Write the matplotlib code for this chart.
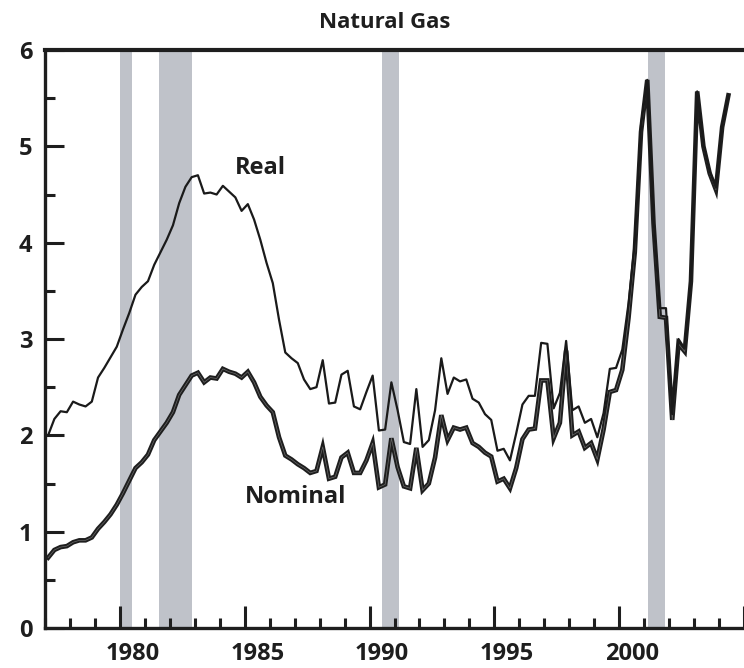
import numpy as np
import matplotlib
matplotlib.use("Agg")
import matplotlib.pyplot as plt
from matplotlib.ticker import MultipleLocator, NullFormatter

# ---------------- data (quarterly, 1977Q1 - 2004Q2) ----------------
start_year = 1977
real = [
    2.00, 2.17, 2.25, 2.24,   # 1977
    2.35, 2.32, 2.30, 2.35,   # 1978
    2.60, 2.70, 2.81, 2.92,   # 1979
    3.10, 3.27, 3.46, 3.54,   # 1980
    3.60, 3.77, 3.90, 4.03,   # 1981
    4.18, 4.41, 4.58, 4.68,   # 1982
    4.70, 4.51, 4.52, 4.50,   # 1983
    4.59, 4.53, 4.47, 4.33,   # 1984
    4.40, 4.24, 4.03, 3.79,   # 1985
    3.58, 3.20, 2.86, 2.80,   # 1986
    2.75, 2.58, 2.48, 2.50,   # 1987
    2.78, 2.33, 2.34, 2.63,   # 1988
    2.67, 2.30, 2.27, 2.45,   # 1989
    2.62, 2.05, 2.06, 2.55,   # 1990
    2.26, 1.93, 1.91, 2.48,   # 1991
    1.88, 1.95, 2.26, 2.80,   # 1992
    2.43, 2.60, 2.56, 2.58,   # 1993
    2.38, 2.34, 2.22, 2.16,   # 1994
    1.84, 1.86, 1.74, 2.02,   # 1995
    2.32, 2.41, 2.41, 2.96,   # 1996
    2.95, 2.28, 2.44, 2.98,   # 1997
    2.26, 2.30, 2.13, 2.17,   # 1998
    1.98, 2.23, 2.69, 2.70,   # 1999
    2.89, 3.37, 4.00, 5.22,   # 2000
    5.69, 4.25, 3.32, 3.32,   # 2001
    2.22, 3.00, 2.90, 3.62,   # 2002
    5.57, 5.02, 4.74, 4.57,   # 2003
    5.22, 5.53,               # 2004
]
nominal = [
    0.73, 0.81, 0.84, 0.85,   # 1977
    0.89, 0.91, 0.91, 0.94,   # 1978
    1.03, 1.10, 1.18, 1.28,   # 1979
    1.40, 1.53, 1.66, 1.72,   # 1980
    1.80, 1.95, 2.04, 2.13,   # 1981
    2.24, 2.42, 2.52, 2.62,   # 1982
    2.65, 2.55, 2.60, 2.59,   # 1983
    2.69, 2.66, 2.64, 2.60,   # 1984
    2.66, 2.55, 2.40, 2.31,   # 1985
    2.24, 1.98, 1.79, 1.75,   # 1986
    1.70, 1.66, 1.61, 1.63,   # 1987
    1.88, 1.55, 1.57, 1.77,   # 1988
    1.82, 1.61, 1.61, 1.74,   # 1989
    1.92, 1.46, 1.49, 1.97,   # 1990
    1.67, 1.47, 1.45, 1.87,   # 1991
    1.43, 1.50, 1.77, 2.21,   # 1992
    1.95, 2.08, 2.06, 2.08,   # 1993
    1.92, 1.88, 1.82, 1.78,   # 1994
    1.52, 1.55, 1.45, 1.66,   # 1995
    1.96, 2.06, 2.07, 2.57,   # 1996
    2.57, 1.97, 2.13, 2.88,   # 1997
    2.00, 2.04, 1.87, 1.92,   # 1998
    1.75, 2.06, 2.45, 2.47,   # 1999
    2.68, 3.22, 3.90, 5.15,   # 2000
    5.69, 4.20, 3.23, 3.22,   # 2001
    2.16, 2.95, 2.87, 3.60,   # 2002
    5.57, 5.00, 4.72, 4.55,   # 2003
    5.20, 5.53,               # 2004
]
# recessions (start, end) in fractional years
recession_start = [1980.0, 1981.55, 1990.5, 2001.17]
recession_end = [1980.5, 1982.9, 1991.2, 2001.85]

year_labels = ["1980", "1985", "1990", "1995", "2000"]
title = "Natural Gas"

# ---------------- plot ----------------
FONT = "Open Sans"
plt.rcParams["font.family"] = [FONT, "DejaVu Sans"]
INK = "#1e1e1e"

fig = plt.figure(figsize=(7.44, 6.68), dpi=100)
ax = fig.add_axes([45 / 744, 40 / 668, 1 - 45 / 744, 578 / 668])

n = len(real)
t = start_year + np.arange(n) / 4 + 0.125

for s, e in zip(recession_start, recession_end):
    ax.axvspan(s, e, color="#bfc2c9", lw=0, zorder=1)

ax.plot(t, nominal, color=INK, lw=3.3, solid_joinstyle="miter", zorder=3)
ax.plot(t, nominal, color="#6a6a6a", lw=0.5, zorder=3.5)
ax.plot(t, real, color="#1a1a1a", lw=1.6, zorder=4)

ax.set_xlim(1977, 2005)
ax.set_ylim(0, 6)

for side in ["left", "bottom", "top"]:
    ax.spines[side].set_linewidth(2.4)
    ax.spines[side].set_color(INK)
    ax.spines[side].set_zorder(6)
ax.spines["top"].set_linewidth(3.0)
ax.spines["right"].set_visible(False)

# y axis
ax.yaxis.set_major_locator(MultipleLocator(1))
ax.yaxis.set_minor_locator(MultipleLocator(0.5))
ax.tick_params(axis="y", which="major", direction="in", length=13.5, width=2.2,
               color=INK, labelsize=17, pad=9, labelcolor=INK)
ax.tick_params(axis="y", which="minor", direction="in", length=7, width=2.2,
               color=INK)
for lab in ax.get_yticklabels():
    lab.set_fontweight("bold")

# x axis ticks (marks only)
ax.xaxis.set_major_locator(MultipleLocator(5))
ax.xaxis.set_minor_locator(MultipleLocator(1))
ax.xaxis.set_major_formatter(NullFormatter())
ax.tick_params(axis="x", which="major", direction="in", length=15.5, width=2.2,
               color=INK)
ax.tick_params(axis="x", which="minor", direction="in", length=7, width=2.2,
               color=INK)

# x labels centred in the middle of each year
sec = ax.secondary_xaxis("bottom")
sec.set_xticks([int(y) + 0.5 for y in year_labels], year_labels)
sec.tick_params(length=0, pad=10, labelsize=17, labelcolor=INK)
sec.spines["bottom"].set_visible(False)
for lab in sec.get_xticklabels():
    lab.set_fontweight("bold")

# series labels
ax.text(1985.62, 4.77, "Real", fontsize=17, fontweight="bold",
        color=INK, ha="center", va="center", zorder=7)
ax.text(1987.02, 1.36, "Nominal", fontsize=17, fontweight="bold",
        color=INK, ha="center", va="center", zorder=7)

fig.text(385 / 744, 1 - 22 / 668, title, fontsize=16, fontweight="bold",
         color=INK, ha="center", va="center")

fig.savefig("out.png", dpi=100)
